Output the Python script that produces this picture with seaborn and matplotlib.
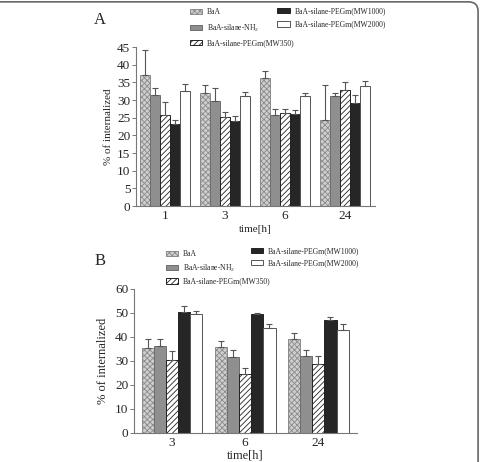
import matplotlib
matplotlib.use("Agg")
import matplotlib.pyplot as plt
from matplotlib.patches import FancyBboxPatch
import seaborn as sns
import pandas as pd
import numpy as np

groups = ["BaA", "BaA-silane-NH$_2$", "BaA-silane-PEGm(MW350)",
          "BaA-silane-PEGm(MW1000)", "BaA-silane-PEGm(MW2000)"]

# panel A
times_a = ["1", "3", "6", "24"]
mean_a = {
    "BaA": [37.2, 32.1, 36.3, 24.5],
    "BaA-silane-NH$_2$": [31.5, 29.8, 25.9, 31.3],
    "BaA-silane-PEGm(MW350)": [25.8, 25.3, 26.4, 33.0],
    "BaA-silane-PEGm(MW1000)": [23.2, 24.0, 26.0, 29.2],
    "BaA-silane-PEGm(MW2000)": [32.7, 31.2, 31.3, 34.0],
}
sd_a = {
    "BaA": [7.0, 2.3, 2.0, 9.8],
    "BaA-silane-NH$_2$": [2.0, 3.6, 1.7, 0.7],
    "BaA-silane-PEGm(MW350)": [3.7, 1.4, 1.2, 2.2],
    "BaA-silane-PEGm(MW1000)": [1.2, 1.6, 1.1, 2.3],
    "BaA-silane-PEGm(MW2000)": [1.8, 1.1, 0.7, 1.4],
}

# panel B
times_b = ["3", "6", "24"]
mean_b = {
    "BaA": [35.5, 35.8, 39.0],
    "BaA-silane-NH$_2$": [36.3, 31.4, 32.1],
    "BaA-silane-PEGm(MW350)": [30.2, 24.6, 28.6],
    "BaA-silane-PEGm(MW1000)": [50.3, 49.4, 46.9],
    "BaA-silane-PEGm(MW2000)": [49.6, 43.6, 42.8],
}
sd_b = {
    "BaA": [3.5, 2.4, 2.5],
    "BaA-silane-NH$_2$": [2.7, 3.1, 2.6],
    "BaA-silane-PEGm(MW350)": [4.0, 2.3, 3.3],
    "BaA-silane-PEGm(MW1000)": [2.5, 0.6, 1.5],
    "BaA-silane-PEGm(MW2000)": [1.2, 1.9, 2.7],
}

faces = ["#cfcfcf", "#8f8f8f", "white", "#262626", "white"]
edges = ["#8a8a8a", "#6e6e6e", "#222222", "#222222", "#555555"]
hatches = ["xxxxxx", None, "//////", None, None]


def to_long(times, means, sds):
    rows = []
    for g in groups:
        for t, m, s in zip(times, means[g], sds[g]):
            rows.append({"time": t, "group": g, "value": m, "sd": s})
    return pd.DataFrame(rows)


def draw_panel(ax, df, times, width, ticks, ylim, xlim):
    sns.barplot(data=df, x="time", y="value", hue="group", order=times,
                hue_order=groups, palette=faces, width=width, gap=0,
                errorbar=None, ax=ax, legend=False, saturation=1)
    bars = list(ax.containers)
    for i, cont in enumerate(bars):
        sub = df[df["group"] == groups[i]].set_index("time").loc[times]
        xs, tops = [], []
        for p in cont.patches:
            p.set_edgecolor(edges[i])
            p.set_linewidth(0.7)
            if hatches[i]:
                p.set_hatch(hatches[i])
            xs.append(p.get_x() + p.get_width() / 2)
            tops.append(p.get_height())
        err = sub["sd"].values
        ax.errorbar(xs, tops, yerr=[np.zeros(len(err)), err], fmt="none",
                    ecolor="#555555", elinewidth=0.8, capsize=2.2, capthick=0.8)
    ax.set_ylim(*ylim)
    ax.set_yticks(ticks)
    ax.set_xlim(*xlim)
    sns.despine(ax=ax)
    for s in ["left", "bottom"]:
        ax.spines[s].set_color("#777777")
        ax.spines[s].set_linewidth(0.8)
    ax.tick_params(axis="y", length=3, width=0.7, color="#777777", pad=1)
    ax.tick_params(axis="x", length=0, pad=3)
    return bars


def add_legend(fig, bars, idx, x, y, spacing):
    handles = [bars[i] for i in idx]
    labels = [groups[i] for i in idx]
    fig.legend(handles, labels, loc="upper left", bbox_to_anchor=(x, y),
               frameon=False, fontsize=5.5, handlelength=1.6, handleheight=0.7,
               handletextpad=0.7, labelspacing=spacing, borderpad=0,
               borderaxespad=0)


sns.set_style("ticks")
plt.rcParams["font.family"] = ["Liberation Serif", "DejaVu Serif"]
plt.rcParams["mathtext.fontset"] = "custom"
plt.rcParams["mathtext.rm"] = "Liberation Serif"
plt.rcParams["hatch.linewidth"] = 0.6

fig = plt.figure(figsize=(4.8, 4.62), dpi=100)

ax_a = fig.add_axes([0.283, 0.554, 0.498, 0.344])
bars_a = draw_panel(ax_a, to_long(times_a, mean_a, sd_a), times_a, 0.83,
                    range(0, 46, 5), (0, 45), (-0.48, 3.5))
ax_a.tick_params(labelsize=9.5)
ax_a.set_xlabel("time[h]", fontsize=8, labelpad=2)
ax_a.set_ylabel("% of internalized", fontsize=8, labelpad=3)

ax_b = fig.add_axes([0.279, 0.063, 0.465, 0.312])
bars_b = draw_panel(ax_b, to_long(times_b, mean_b, sd_b), times_b, 0.83,
                    range(0, 61, 10), (0, 60), (-0.52, 2.53))
ax_b.tick_params(labelsize=9.5)
ax_b.set_xlabel("time[h]", fontsize=9, labelpad=0)
ax_b.set_ylabel("% of internalized", fontsize=9, labelpad=4)

fig.text(0.208, 0.957, "A", fontsize=12, va="center", ha="center")
fig.text(0.208, 0.435, "B", fontsize=12, va="center", ha="center")

add_legend(fig, bars_a, [0, 1, 2], 0.395, 0.982, 0.75)
add_legend(fig, bars_a, [3, 4], 0.578, 0.985, 0.75)
add_legend(fig, bars_b, [0, 1, 2], 0.345, 0.458, 0.5)
add_legend(fig, bars_b, [3, 4], 0.522, 0.465, 0.5)

frame = FancyBboxPatch((-0.05, -0.05), 1.046, 1.046, transform=fig.transFigure,
                       boxstyle="round,pad=0,rounding_size=0.02",
                       facecolor="none", edgecolor="#666666", linewidth=1.2,
                       clip_on=False)
fig.patches.append(frame)

fig.savefig("out.png", dpi=100)
